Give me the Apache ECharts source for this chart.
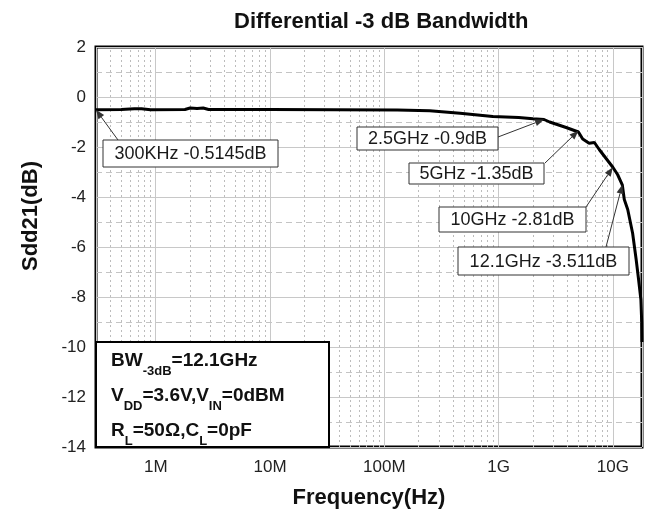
<!DOCTYPE html>
<html><head><meta charset="utf-8">
<script src="https://cdn.jsdelivr.net/npm/echarts@6/dist/echarts.min.js"></script>
<style>html,body{margin:0;padding:0;background:#fff}#c{width:649px;height:518px}</style>
</head><body><div id="c"></div>
<script>
// ---- data ----
const freqHz = [3e5, 5e5, 6.5e5, 7.5e5, 9e5, 1.8e6, 2.0e6, 2.3e6, 2.6e6, 2.9e6, 1e7, 1.3e8, 2.5e8, 4.6e8, 8.9e8, 1.5e9, 2.0e9, 2.5e9, 2.8e9, 3.9e9, 5e9, 5.45e9, 6.2e9, 6.9e9, 7.6e9, 8.7e9, 1e10, 1.1e10, 1.21e10, 1.26e10, 1.35e10, 1.49e10, 1.6e10, 1.68e10, 1.76e10, 1.79e10, 1.8e10];
const sdd21dB = [-0.5145, -0.5, -0.47, -0.47, -0.51, -0.5, -0.44, -0.46, -0.44, -0.5, -0.5, -0.52, -0.55, -0.65, -0.78, -0.82, -0.87, -0.9, -1.0, -1.22, -1.4, -1.68, -1.85, -1.82, -2.1, -2.45, -2.81, -3.1, -3.511, -4.1, -4.5, -5.45, -6.5, -7.3, -8.1, -9.0, -9.8];
const xMin = 3e5, xMax = 1.8e10;
const xTickValues = [1e6, 1e7, 1e8, 1e9, 1e10];
const xTickLabels = ['1M', '10M', '100M', '1G', '10G'];
const decades = [1e5, 1e6, 1e7, 1e8, 1e9, 1e10];
const minorMultipliers = [2, 3, 4, 5, 6, 7, 8, 9];
const yMinorValues = [1, -1, -3, -5, -7, -9, -11, -13];
const annoFreq = [3e5, 2.5e9, 5e9, 1e10, 1.21e10];
const annoDB = [-0.5145, -0.9, -1.35, -2.81, -3.511];
const annoText = ['300KHz -0.5145dB', '2.5GHz -0.9dB', '5GHz -1.35dB', '10GHz -2.81dB', '12.1GHz -3.511dB'];
const titleText = 'Differential -3 dB Bandwidth';
const xName = 'Frequency(Hz)';
const yName = 'Sdd21(dB)';
const infoLines = ['{b|BW}{s|-3dB}{b|=12.1GHz}', '{b|V}{s|DD}{b|=3.6V,V}{s|IN}{b|=0dBM}', '{b|R}{s|L}{b|=50\u03A9,C}{s|L}{b|=0pF}'];

// ---- layout (pixels) for annotation boxes: [left, top, width, height, arrowStartX, arrowStartY]
const annoLayout = [
  [103, 140, 175, 27, 118, 140],
  [357, 127, 141, 23, 498, 137],
  [409, 163, 135, 21, 545, 163],
  [439, 207, 147, 25, 586, 207],
  [458, 247, 171, 28, 606, 247]
];

const FONT = '"Liberation Sans", Arial, Helvetica, sans-serif';
const minorX = [];
decades.forEach(d => minorMultipliers.forEach(m => { const v = d * m; if (v > xMin && v < xMax) minorX.push(v); }));

const chart = echarts.init(document.getElementById('c'), null, {renderer: 'canvas'});
chart.setOption({
  animation: false,
  backgroundColor: '#fff',
  textStyle: {fontFamily: FONT},
  title: {text: titleText, left: 229, top: 6, textStyle: {fontFamily: FONT, fontSize: 22, fontWeight: 'bold', color: '#111'}},
  grid: {left: 96, right: 7, top: 47, bottom: 71, show: true, borderColor: '#000', borderWidth: 3, backgroundColor: '#fff'},
  xAxis: {
    type: 'log', logBase: 10, min: xMin, max: xMax,
    axisLine: {show: false}, axisTick: {show: false},
    axisLabel: {
      fontSize: 17, color: '#222', margin: 12, fontFamily: FONT,
      formatter: v => { for (let i = 0; i < xTickValues.length; i++) { if (Math.abs(Math.log10(v) - Math.log10(xTickValues[i])) < 1e-6) return xTickLabels[i]; } return ''; }
    },
    splitLine: {show: true, lineStyle: {color: '#c8c8c8', width: 1}},
    name: xName, nameLocation: 'middle', nameGap: 40,
    nameTextStyle: {fontSize: 22, fontWeight: 'bold', color: '#111', fontFamily: FONT}
  },
  yAxis: {
    type: 'value', min: -14, max: 2, interval: 2,
    axisLine: {show: false}, axisTick: {show: false},
    axisLabel: {fontSize: 17, color: '#222', margin: 10, fontFamily: FONT},
    splitLine: {show: true, lineStyle: {color: '#c8c8c8', width: 1}},
    name: yName, nameLocation: 'middle', nameGap: 54,
    nameTextStyle: {fontSize: 22, fontWeight: 'bold', color: '#111', fontFamily: FONT, padding: [0, 0, 0, 62]}
  },
  series: [
    {
      type: 'line', data: [], silent: true,
      markLine: {
        silent: true, symbol: 'none', animation: false, label: {show: false},
        emphasis: {disabled: true},
        data: minorX.map(v => ({xAxis: v, lineStyle: {type: [2, 3], color: '#bcbcbc', width: 1}}))
          .concat(yMinorValues.map(v => ({yAxis: v, lineStyle: {type: [6, 4], color: '#c4c4c4', width: 1}})))
      }
    },
    {
      type: 'line', data: freqHz.map((f, i) => [f, sdd21dB[i]]),
      symbol: 'none', showSymbol: false, z: 5,
      lineStyle: {color: '#000', width: 3}
    }
  ]
});

const graphics = [];
annoFreq.forEach((f, i) => {
  const tip = chart.convertToPixel({gridIndex: 0}, [f, annoDB[i]]);
  const L = annoLayout[i];
  const sx = L[4], sy = L[5];
  const dx = tip[0] - sx, dy = tip[1] - sy;
  const len = Math.sqrt(dx * dx + dy * dy);
  const ux = dx / len, uy = dy / len;
  const hl = 9, hw = 3.5;
  const bx = tip[0] - ux * hl, by = tip[1] - uy * hl;
  graphics.push({type: 'line', z: 100, shape: {x1: sx, y1: sy, x2: bx, y2: by}, style: {stroke: '#333', lineWidth: 1}});
  graphics.push({type: 'polygon', z: 100, shape: {points: [[tip[0], tip[1]], [bx - uy * hw, by + ux * hw], [bx + uy * hw, by - ux * hw]]}, style: {fill: '#333'}});
  graphics.push({type: 'rect', z: 101, shape: {x: L[0], y: L[1], width: L[2], height: L[3]}, style: {fill: '#fff', stroke: '#333', lineWidth: 1}});
  graphics.push({type: 'text', z: 102, x: L[0] + L[2] / 2, y: L[1] + L[3] / 2 + 1, style: {text: annoText[i], fill: '#1a1a1a', font: '18px ' + FONT, textAlign: 'center', textVerticalAlign: 'middle'}});
});
const corner = chart.convertToPixel({gridIndex: 0}, [xMin, -14]);
graphics.push({type: 'rect', z: 103, shape: {x: corner[0], y: corner[1] - 105, width: 233, height: 105}, style: {fill: '#fff', stroke: '#000', lineWidth: 2}});
graphics.push({type: 'text', z: 104, x: corner[0] + 15, y: corner[1] - 104,
  style: {
    text: infoLines.join('\n'), textAlign: 'left', textVerticalAlign: 'top', fill: '#111',
    rich: {
      b: {fontSize: 19, fontWeight: 'bold', lineHeight: 35, fontFamily: FONT, fill: '#111'},
      s: {fontSize: 13, fontWeight: 'bold', lineHeight: 22, verticalAlign: 'bottom', fontFamily: FONT, fill: '#111'}
    }
  }
});
chart.setOption({graphic: graphics});
</script>
</body></html>
